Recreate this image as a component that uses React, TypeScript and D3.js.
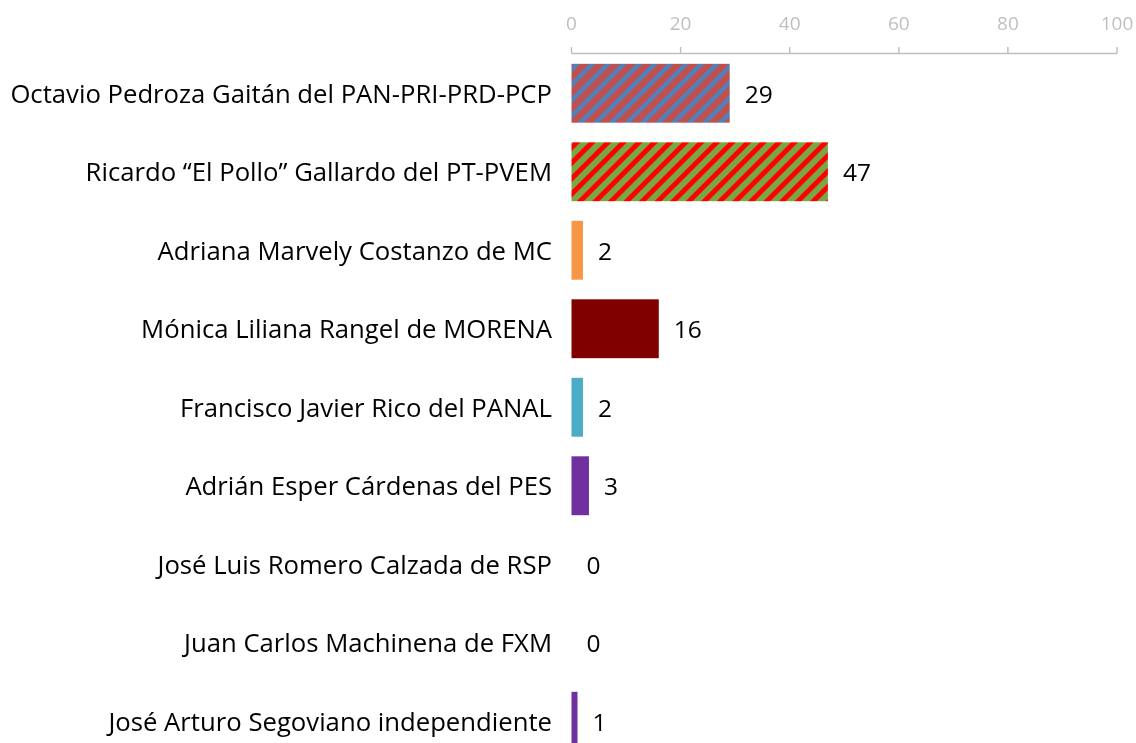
import React from "react";
import * as d3 from "d3";

const categories = [
  "Octavio Pedroza Gaitán del PAN-PRI-PRD-PCP",
  "Ricardo “El Pollo” Gallardo del PT-PVEM",
  "Adriana Marvely Costanzo de MC",
  "Mónica Liliana Rangel de MORENA",
  "Francisco Javier Rico del PANAL",
  "Adrián Esper Cárdenas del PES",
  "José Luis Romero Calzada de RSP",
  "Juan Carlos Machinena de FXM",
  "José Arturo Segoviano independiente",
];
const values = [29, 47, 2.1, 16, 2.1, 3.2, 0, 0, 1.1];
const labels = ["29", "47", "2", "16", "2", "3", "0", "0", "1"];
const fills = [
  "url(#patA)",
  "url(#patB)",
  "#F79646",
  "#800000",
  "#4BACC6",
  "#7030A0",
  "#7030A0",
  "#7030A0",
  "#7030A0",
];
const axisTicks = [0, 20, 40, 60, 80, 100];

const W = 1136;
const H = 743;

export default function App() {
  const x = d3.scaleLinear().domain([0, 100]).range([571.5, 1117]);
  const y = d3
    .scaleBand<string>()
    .domain(categories)
    .range([54, 760.5])
    .paddingInner(0.25)
    .paddingOuter(0.125);
  const axisColor = "#BFBFBF";
  const font = "'Open Sans', sans-serif";
  const P = 11;
  return (
    <div style={{ position: "fixed", left: 0, top: 0 }}>
      <svg width={W} height={H} style={{ display: "block" }}>
        <defs>
          <pattern
            id="patA"
            patternUnits="userSpaceOnUse"
            width={P}
            height={P}
            patternTransform="rotate(45)"
          >
            <rect width={P} height={P} fill="#C0504D" />
            <rect width={P * 0.4} height={P} fill="#4F81BD" />
          </pattern>
          <pattern
            id="patB"
            patternUnits="userSpaceOnUse"
            width={P}
            height={P}
            patternTransform="rotate(45)"
          >
            <rect width={P} height={P} fill="#79A743" />
            <rect width={P * 0.45} height={P} fill="#FF0000" />
          </pattern>
        </defs>
        <g>
          <line
            x1={x(0)}
            x2={x(100)}
            y1={53.5}
            y2={53.5}
            stroke={axisColor}
            strokeWidth={1.5}
          />
          {axisTicks.map((t) => (
            <g key={t}>
              <line
                x1={x(t)}
                x2={x(t)}
                y1={47}
                y2={53.5}
                stroke={axisColor}
                strokeWidth={1.5}
              />
              <text
                x={x(t)}
                y={23}
                textAnchor="middle"
                dominantBaseline="central"
                fill={axisColor}
                fontFamily={font}
                fontSize={19}
              >
                {t}
              </text>
            </g>
          ))}
        </g>
        {categories.map((c, i) => {
          const yy = y(c)!;
          const bw = y.bandwidth();
          const cy = yy + bw / 2;
          const end = x(values[i]);
          return (
            <g key={c}>
              {values[i] > 0 && (
                <rect x={x(0)} y={yy} width={end - x(0)} height={bw} fill={fills[i]} />
              )}
              <text
                x={552}
                y={cy}
                textAnchor="end"
                dominantBaseline="central"
                fontFamily={font}
                fontSize={25.7}
                fill="#000"
              >
                {c}
              </text>
              <text
                x={end + 15}
                y={cy}
                textAnchor="start"
                dominantBaseline="central"
                fontFamily={font}
                fontSize={24.5}
                fill="#000"
              >
                {labels[i]}
              </text>
            </g>
          );
        })}
      </svg>
    </div>
  );
}
